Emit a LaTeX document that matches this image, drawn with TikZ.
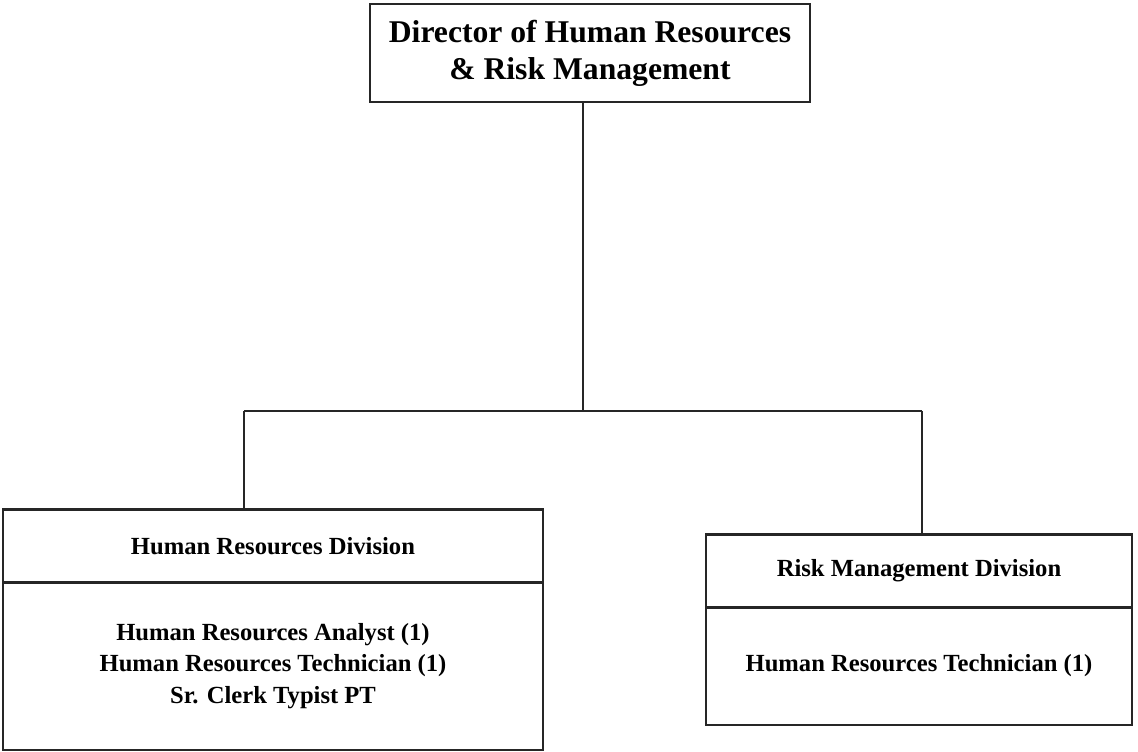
\documentclass[tikz,border=0pt]{standalone}
\usepackage{fontspec}
\setmainfont{Liberation Serif}
\usetikzlibrary{positioning}

\begin{document}
\begin{tikzpicture}[
  x=0.01cm, y=-0.01cm,
  box/.style={draw=black!85, line width=0.6pt, align=center, inner sep=0pt,
    font=\bfseries\fontsize{7}{8.9}\selectfont},
  topbox/.style={box, minimum width=4.39cm, minimum height=0.98cm,
    font=\bfseries\fontsize{9}{10.6}\selectfont},
  link/.style={draw=black!85, line width=0.6pt}
]
  \useasboundingbox (0,0) rectangle (1138,752);

  % Director
  \node[topbox] (dir) at (590,53) {Director of Human Resources\\\& Risk Management};

  % Human Resources Division
  \node[box, minimum width=5.4cm, minimum height=0.73cm] (hrhead) at (273,546)
    {Human Resources Division};
  \node[box, minimum width=5.4cm, minimum height=1.67cm, below=-0.6pt of hrhead] (hrbody)
    {Human Resources Analyst (1)\\Human Resources Technician (1)\\Sr. Clerk Typist PT};

  % Risk Management Division
  \node[box, minimum width=4.26cm, minimum height=0.73cm] (rmhead) at (919,571)
    {Risk Management Division};
  \node[box, minimum width=4.26cm, minimum height=1.17cm, below=-0.6pt of rmhead] (rmbody)
    {Human Resources Technician (1)};

  % Connectors
  \coordinate (trunk) at (583,411);
  \coordinate (hrtap) at (244,411);
  \coordinate (rmtap) at (922,411);
  \draw[link] (dir.south -| trunk) -- (trunk);
  \draw[link] (hrtap) -- (rmtap);
  \draw[link] (hrtap) -- (hrtap |- hrhead.north);
  \draw[link] (rmtap) -- (rmtap |- rmhead.north);
\end{tikzpicture}
\end{document}
